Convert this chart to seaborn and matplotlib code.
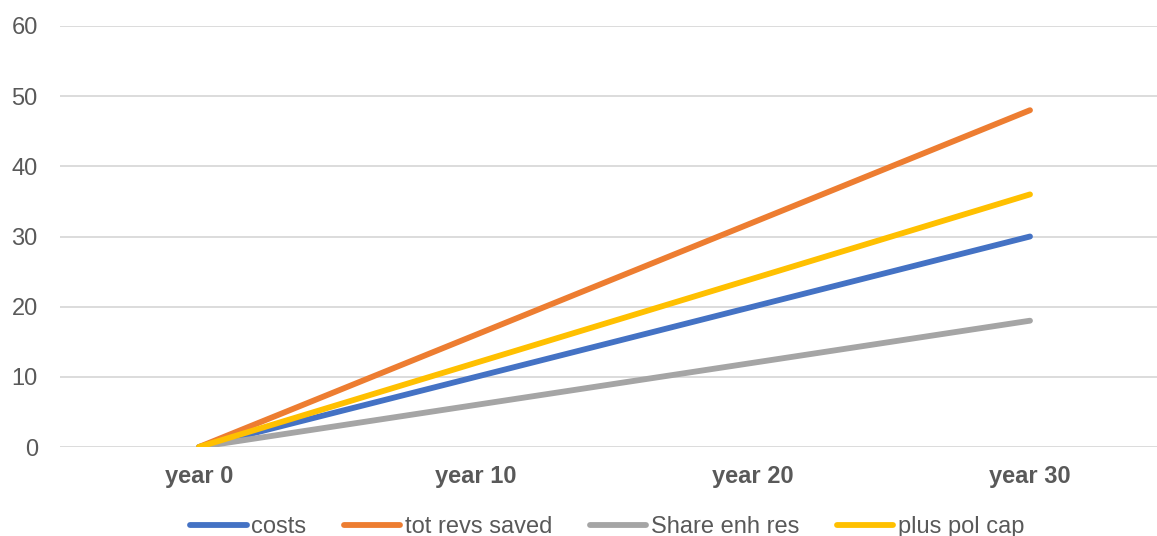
import matplotlib
matplotlib.use("Agg")
import matplotlib.pyplot as plt
import seaborn as sns
import pandas as pd

categories = ["year 0", "year 10", "year 20", "year 30"]
costs = [0, 10, 20, 30]
tot_revs_saved = [0, 16, 32, 48]
share_enh_res = [0, 6, 12, 18]
plus_pol_cap = [0, 12, 24, 36]

series_names = ["costs", "tot revs saved", "Share enh res", "plus pol cap"]
series_values = [costs, tot_revs_saved, share_enh_res, plus_pol_cap]
colors = ["#4472C4", "#ED7D31", "#A5A5A5", "#FFC000"]

rows = []
for name, vals in zip(series_names, series_values):
    for c, v in zip(categories, vals):
        rows.append({"category": c, "value": v, "series": name})
df = pd.DataFrame(rows)

sns.set_theme(style="white")
plt.rcParams["font.family"] = ["Liberation Sans", "DejaVu Sans"]

fig = plt.figure(figsize=(11.57, 5.36), dpi=100)
ax = fig.add_axes([60 / 1157, 1 - 447 / 536, 1 - 60 / 1157, (447 - 26) / 536])

lw = 4.2
sns.lineplot(data=df, x="category", y="value", hue="series", hue_order=series_names,
             palette=colors, linewidth=lw, ax=ax, legend=False, sort=False,
             solid_capstyle="round", errorbar=None)

ax.set_ylim(0, 60)
ax.set_yticks([0, 10, 20, 30, 40, 50, 60])
ax.set_xlim(-(199 - 60) / 277, 3 + (1157 - 1030) / 277)
ax.set_xticks(range(len(categories)))
ax.set_xticklabels(categories, fontweight="bold")
ax.yaxis.grid(True, color="#D9D9D9", linewidth=1.3)
ax.set_axisbelow(True)
for s in ax.spines.values():
    s.set_visible(False)
ax.tick_params(axis="y", length=0, pad=16, labelsize=17, labelcolor="#595959")
ax.tick_params(axis="x", length=0, pad=13, labelsize=17, labelcolor="#595959")
ax.set_xlabel("")
ax.set_ylabel("")

from matplotlib.lines import Line2D
handles = [Line2D([0], [0], color=c, linewidth=lw, solid_capstyle="round") for c in colors]
leg = fig.legend(handles, series_names, loc="center", bbox_to_anchor=(607 / 1157, 1 - 527 / 536),
                 ncol=4, frameon=False, fontsize=17, handlelength=2.4, handletextpad=0.18,
                 columnspacing=1.6, labelcolor="#595959", borderpad=0)

fig.savefig("out.png", dpi=100)
